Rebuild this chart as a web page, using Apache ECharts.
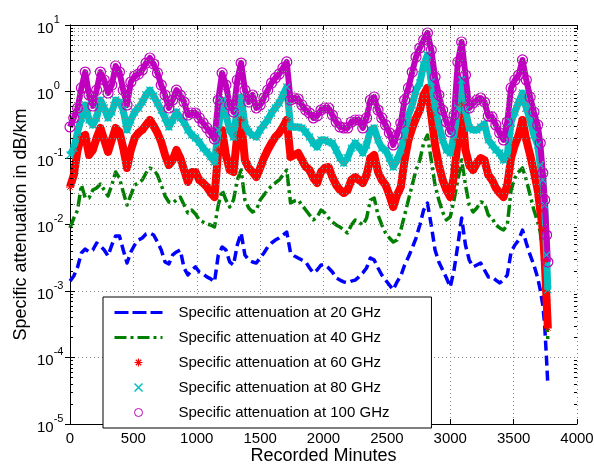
<!DOCTYPE html>
<html><head><meta charset="utf-8">
<script src="https://cdn.jsdelivr.net/npm/echarts@6/dist/echarts.min.js"></script>
<style>html,body{margin:0;padding:0;background:#fff}#c{width:594px;height:464px}</style>
</head><body><div id="c"></div>
<script>
const minutes = [0,30,60,90,120,150,180,210,240,270,
300,330,360,390,420,450,480,510,540,570,
600,630,660,690,720,750,780,810,840,870,
900,930,960,990,1020,1050,1080,1110,1140,1170,
1200,1230,1260,1290,1320,1350,1380,1410,1440,1470,
1500,1530,1560,1590,1620,1650,1680,1710,1740,1770,
1800,1830,1860,1890,1920,1950,1980,2010,2040,2070,
2100,2130,2160,2190,2220,2250,2280,2310,2340,2370,
2400,2430,2460,2490,2520,2550,2580,2610,2640,2670,
2700,2730,2760,2790,2820,2850,2880,2910,2940,2970,
3000,3030,3060,3090,3120,3150,3180,3210,3240,3270,
3300,3330,3360,3390,3420,3450,3480,3510,3540,3570,
3600,3630,3660,3690,3710,3730,3745,3760,3770];

const att20 = [0.00141,0.00168,0.00230,0.00373,0.00428,0.00386,0.00414,0.00527,0.00475,0.00414,
0.00336,0.00492,0.00671,0.00671,0.00414,0.00264,0.00386,0.00492,0.00584,0.00626,
0.00719,0.00745,0.00695,0.00545,0.00414,0.00273,0.00255,0.00348,0.00386,0.00414,
0.00222,0.00174,0.00207,0.00230,0.00193,0.00180,0.00163,0.00152,0.00137,0.00348,
0.00459,0.00414,0.00273,0.00246,0.00492,0.00745,0.00348,0.00292,0.00273,0.00264,
0.00314,0.00373,0.00459,0.00527,0.00584,0.00626,0.00695,0.00771,0.00373,0.00336,
0.00314,0.00292,0.00273,0.00222,0.00187,0.00207,0.00246,0.00246,0.00222,0.00193,
0.00157,0.00146,0.00137,0.00132,0.00141,0.00146,0.00163,0.00187,0.00222,0.00314,
0.00292,0.00222,0.00174,0.00146,0.00123,0.00104,0.00137,0.00168,0.00246,0.00325,
0.00443,0.00626,0.00983,0.0165,0.0210,0.00983,0.00414,0.00273,0.00207,0.00157,
0.00115,0.00207,0.00492,0.0125,0.00492,0.00292,0.00230,0.00246,0.00264,0.00207,
0.00163,0.00163,0.00146,0.00132,0.00146,0.00174,0.00386,0.00492,0.00584,0.00826,
0.00527,0.00348,0.00246,0.00157,0.00104,0.000616,0.000308,0.0000917,0.0000386];

const att40 = [0.00886,0.0125,0.0165,0.0393,0.0250,0.0250,0.0330,0.0354,0.0406,0.0330,
0.0268,0.0393,0.0616,0.0500,0.0308,0.0196,0.0278,0.0393,0.0421,0.0467,
0.0595,0.0708,0.0661,0.0555,0.0393,0.0268,0.0218,0.0210,0.0234,0.0259,
0.0196,0.0149,0.0165,0.0144,0.0117,0.0109,0.0102,0.00983,0.00917,0.0196,
0.0330,0.0234,0.0183,0.0234,0.0467,0.0661,0.0234,0.0177,0.0154,0.0165,
0.0234,0.0278,0.0330,0.0379,0.0421,0.0467,0.0555,0.0661,0.0210,0.0226,
0.0234,0.0196,0.0165,0.0139,0.0117,0.0130,0.0165,0.0149,0.0125,0.0109,
0.00983,0.00917,0.00826,0.00745,0.00983,0.0117,0.0109,0.00983,0.0125,0.0234,
0.0250,0.0139,0.00983,0.00745,0.00626,0.00545,0.00584,0.00826,0.0139,0.0234,
0.0393,0.0661,0.0933,0.168,0.222,0.0933,0.0393,0.0234,0.0154,0.0117,
0.0130,0.0234,0.0467,0.0933,0.0393,0.0196,0.0154,0.0177,0.0218,0.0210,
0.0139,0.0125,0.00983,0.00886,0.00826,0.00983,0.0330,0.0500,0.0616,0.0708,
0.0467,0.0278,0.0165,0.0109,0.00771,0.00348,0.00174,0.000518,0.000183];

const att60 = [0.0366,0.0555,0.132,0.207,0.222,0.111,0.132,0.200,0.283,0.187,
0.123,0.187,0.283,0.246,0.141,0.0708,0.132,0.200,0.238,0.264,
0.314,0.373,0.303,0.238,0.174,0.111,0.0785,0.0933,0.132,0.100,
0.0661,0.0436,0.0616,0.0616,0.0467,0.0421,0.0366,0.0298,0.0259,0.132,
0.264,0.111,0.0661,0.0616,0.222,0.373,0.0933,0.0708,0.0616,0.0518,
0.0708,0.100,0.132,0.168,0.207,0.238,0.293,0.373,0.104,0.111,
0.119,0.0933,0.0733,0.0661,0.0500,0.0421,0.0616,0.0708,0.0733,0.0518,
0.0393,0.0330,0.0298,0.0330,0.0467,0.0518,0.0467,0.0421,0.0555,0.100,
0.111,0.0616,0.0467,0.0393,0.0278,0.0183,0.0278,0.0366,0.0933,0.187,
0.283,0.400,0.527,0.886,1.13,0.443,0.157,0.0785,0.0467,0.0330,
0.0259,0.0555,0.187,0.627,0.132,0.0785,0.0661,0.0841,0.100,0.0933,
0.0555,0.0467,0.0354,0.0298,0.0259,0.0393,0.100,0.157,0.222,0.373,
0.187,0.111,0.0616,0.0330,0.0165,0.00826,0.00292,0.000733,0.000278];

const att80 = [0.111,0.141,0.246,0.400,0.627,0.373,0.314,0.400,0.745,0.565,
0.400,0.492,0.745,0.695,0.527,0.264,0.373,0.492,0.565,0.695,
0.886,1.05,0.855,0.672,0.527,0.400,0.293,0.373,0.492,0.400,
0.348,0.264,0.222,0.200,0.174,0.141,0.123,0.104,0.0871,0.264,
0.745,0.443,0.264,0.207,0.565,0.826,0.314,0.246,0.222,0.207,
0.264,0.314,0.373,0.475,0.565,0.672,0.886,1.17,0.293,0.293,
0.293,0.283,0.246,0.207,0.168,0.146,0.187,0.187,0.174,0.168,
0.132,0.100,0.0841,0.100,0.141,0.168,0.146,0.119,0.157,0.264,
0.283,0.187,0.141,0.132,0.100,0.0733,0.0933,0.132,0.222,0.443,
0.627,1.05,1.34,2.50,3.54,1.39,0.627,0.314,0.187,0.132,
0.119,0.222,0.565,1.49,0.527,0.283,0.264,0.264,0.293,0.325,
0.187,0.157,0.132,0.119,0.0933,0.111,0.348,0.492,0.695,0.949,
0.565,0.373,0.222,0.157,0.0785,0.0467,0.0196,0.00348,0.00104];

const att100 = [0.293,0.400,0.565,1.13,1.96,0.886,0.605,1.05,1.96,1.49,
0.949,1.25,2.42,1.96,1.05,0.627,1.39,1.71,1.83,2.11,
2.68,3.19,2.59,1.90,1.25,0.886,0.565,0.745,1.05,0.886,
0.695,0.443,0.475,0.475,0.400,0.336,0.283,0.238,0.193,0.745,
1.90,1.25,0.627,0.492,1.49,2.68,1.05,0.695,0.886,0.565,
0.627,0.798,1.05,1.34,1.60,1.83,2.26,2.78,0.745,0.798,
0.771,0.627,0.527,0.475,0.400,0.428,0.527,0.565,0.565,0.443,
0.348,0.293,0.283,0.283,0.348,0.373,0.373,0.283,0.400,0.745,
0.826,0.527,0.400,0.314,0.238,0.157,0.222,0.336,0.745,1.13,
1.96,3.30,4.51,5.95,7.58,4.21,1.65,0.886,0.527,0.348,
0.246,0.443,2.78,5.55,1.77,0.565,0.672,0.745,0.798,0.695,
0.428,0.414,0.314,0.238,0.187,0.348,1.13,1.49,1.77,2.98,
1.49,0.826,0.492,0.314,0.168,0.0595,0.0234,0.00695,0.00273];

const seriesNames = ['Specific attenuation at 20 GHz','Specific attenuation at 40 GHz',
  'Specific attenuation at 60 GHz','Specific attenuation at 80 GHz','Specific attenuation at 100 GHz'];
const xTickInterval = 500;
const xMin = 0, xMax = 4000;

const FONT = "'Liberation Sans', Arial, Helvetica, sans-serif";
const C_BLUE = '#0000ff', C_GREEN = '#008000', C_RED = '#ff0000', C_CYAN = '#00bfbf', C_MAG = '#bf00bf';
const STAR = 'path://M5,0L5,10M0,5L10,5M1.6,1.6L8.4,8.4M8.4,1.6L1.6,8.4';
const CROSS = 'path://M0,0L10,10M10,0L0,10';

function pairs(vals) { return minutes.map((m, i) => [m, vals[i]]); }
const minorY = [];
for (let e = -5; e < 1; e++) for (let k = 2; k <= 9; k++) minorY.push(k * Math.pow(10, e));
const minorTickLen = 24; // in minutes along x (~3 px)
const minorTickSegs = [];
minorY.forEach(v => {
  minorTickSegs.push([{ coord: [xMin, v] }, { coord: [xMin + minorTickLen, v] }]);
  minorTickSegs.push([{ coord: [xMax - minorTickLen, v] }, { coord: [xMax, v] }]);
});

const gridDot = { type: [1, 3], color: '#8a8a8a', width: 1 };
const hidden = { color: 'rgba(0,0,0,0)', borderColor: 'rgba(0,0,0,0)', borderWidth: 0, opacity: 0 };

const chart = echarts.init(document.getElementById('c'), null, { renderer: 'canvas' });
chart.setOption({
  animation: false,
  backgroundColor: '#fff',
  textStyle: { fontFamily: FONT },
  grid: { left: 70, right: 17, top: 25, bottom: 40, containLabel: false, outerBoundsMode: 'none' },
  xAxis: [{
    type: 'value', min: xMin, max: xMax, interval: xTickInterval, position: 'bottom',
    axisLine: { lineStyle: { color: '#000', width: 1 } },
    axisTick: { inside: true, length: 5, lineStyle: { color: '#000' } },
    axisLabel: { color: '#000', fontSize: 15, fontFamily: FONT, margin: 7, formatter: v => String(v) },
    splitLine: { show: true, lineStyle: gridDot },
    name: 'Recorded Minutes', nameLocation: 'middle', nameGap: 23, nameMoveOverlap: false,
    nameTextStyle: { fontSize: 18, color: '#000', fontFamily: FONT }
  }, {
    type: 'value', min: xMin, max: xMax, interval: xTickInterval, position: 'top',
    axisLine: { lineStyle: { color: '#000', width: 1 } },
    axisTick: { inside: true, length: 5, lineStyle: { color: '#000' } },
    axisLabel: { show: false }, splitLine: { show: false }
  }],
  yAxis: [{
    type: 'log', logBase: 10, min: 1e-5, max: 10, splitNumber: 6, position: 'left',
    axisLine: { lineStyle: { color: '#000', width: 1 } },
    axisTick: { inside: true, length: 5, lineStyle: { color: '#000' } },
    axisLabel: {
      align: 'left', margin: 33, color: '#000',
      formatter: v => '{b|10}{s|' + Math.round(Math.log10(v)) + '}',
      rich: {
        b: { fontSize: 15, fontFamily: FONT, color: '#000', lineHeight: 22, verticalAlign: 'bottom' },
        s: { fontSize: 11, fontFamily: FONT, color: '#000', lineHeight: 22, verticalAlign: 'top' }
      }
    },
    splitLine: { show: true, lineStyle: gridDot },
    name: 'Specific attenuation in dB/km', nameLocation: 'middle', nameGap: 40, nameMoveOverlap: false,
    nameTextStyle: { fontSize: 18, color: '#000', fontFamily: FONT }
  }, {
    type: 'log', logBase: 10, min: 1e-5, max: 10, splitNumber: 6, position: 'right',
    axisLine: { lineStyle: { color: '#000', width: 1 } },
    axisTick: { inside: true, length: 5, lineStyle: { color: '#000' } },
    axisLabel: { show: false }, splitLine: { show: false }
  }],
  legend: {
    orient: 'vertical', left: 103, top: 297,
    padding: [8, 42, 8, 10],
    backgroundColor: '#fff', borderColor: '#000', borderWidth: 1,
    itemWidth: 48, itemHeight: 8, itemGap: 10,
    selectedMode: false,
    textStyle: { fontSize: 15, fontFamily: FONT, color: '#000', lineHeight: 14, padding: [0, 0, 0, 11] },
    data: [
      { name: seriesNames[0], lineStyle: { type: [14, 4], width: 3, color: C_BLUE }, itemStyle: hidden },
      { name: seriesNames[1], lineStyle: { type: [12, 4, 3, 4], width: 3, color: C_GREEN }, itemStyle: hidden },
      { name: seriesNames[2], icon: STAR, itemStyle: { color: C_RED, borderColor: C_RED, borderWidth: 1.2 } },
      { name: seriesNames[3], icon: CROSS, itemStyle: { color: C_CYAN, borderColor: C_CYAN, borderWidth: 1.5 } },
      { name: seriesNames[4], icon: 'circle', itemStyle: { color: '#fff', borderColor: C_MAG, borderWidth: 1 } }
    ]
  },
  series: [
    {
      name: 'minorGrid', type: 'line', data: [], z: 1, silent: true,
      markLine: {
        silent: true, symbol: ['none', 'none'], label: { show: false },
        lineStyle: gridDot, animation: false,
        data: minorY.map(v => ({ yAxis: v }))
      }
    },
    {
      name: 'minorTicks', type: 'line', data: [], z: 6, silent: true,
      markLine: {
        silent: true, symbol: ['none', 'none'], label: { show: false },
        lineStyle: { type: 'solid', color: '#000', width: 1 }, animation: false,
        data: minorTickSegs
      }
    },
    {
      name: seriesNames[0], type: 'line', data: pairs(att20), symbol: 'none', z: 3,
      lineStyle: { color: C_BLUE, width: 3.5, type: [10, 5], join: 'round' },
      itemStyle: { color: C_BLUE }
    },
    {
      name: seriesNames[1], type: 'line', data: pairs(att40), symbol: 'none', z: 3,
      lineStyle: { color: C_GREEN, width: 3.5, type: [12, 4, 3, 4], join: 'round' },
      itemStyle: { color: C_GREEN }
    },
    {
      name: seriesNames[2], type: 'line', data: pairs(att60), symbol: STAR, symbolSize: 8, z: 3,
      lineStyle: { color: C_RED, width: 8, join: 'round' },
      itemStyle: { color: C_RED, borderColor: C_RED, borderWidth: 1 }
    },
    {
      name: seriesNames[3], type: 'line', data: pairs(att80), symbol: CROSS, symbolSize: 7, z: 3,
      lineStyle: { color: C_CYAN, width: 7, join: 'round' },
      itemStyle: { color: C_CYAN, borderColor: C_CYAN, borderWidth: 1.2 }
    },
    {
      name: seriesNames[4], type: 'line', data: pairs(att100), symbol: 'circle', symbolSize: 10, z: 3,
      lineStyle: { color: C_MAG, width: 6, join: 'round' },
      itemStyle: { color: 'rgba(255,255,255,0)', borderColor: C_MAG, borderWidth: 1.2 }
    }
  ]
});
</script></body></html>
